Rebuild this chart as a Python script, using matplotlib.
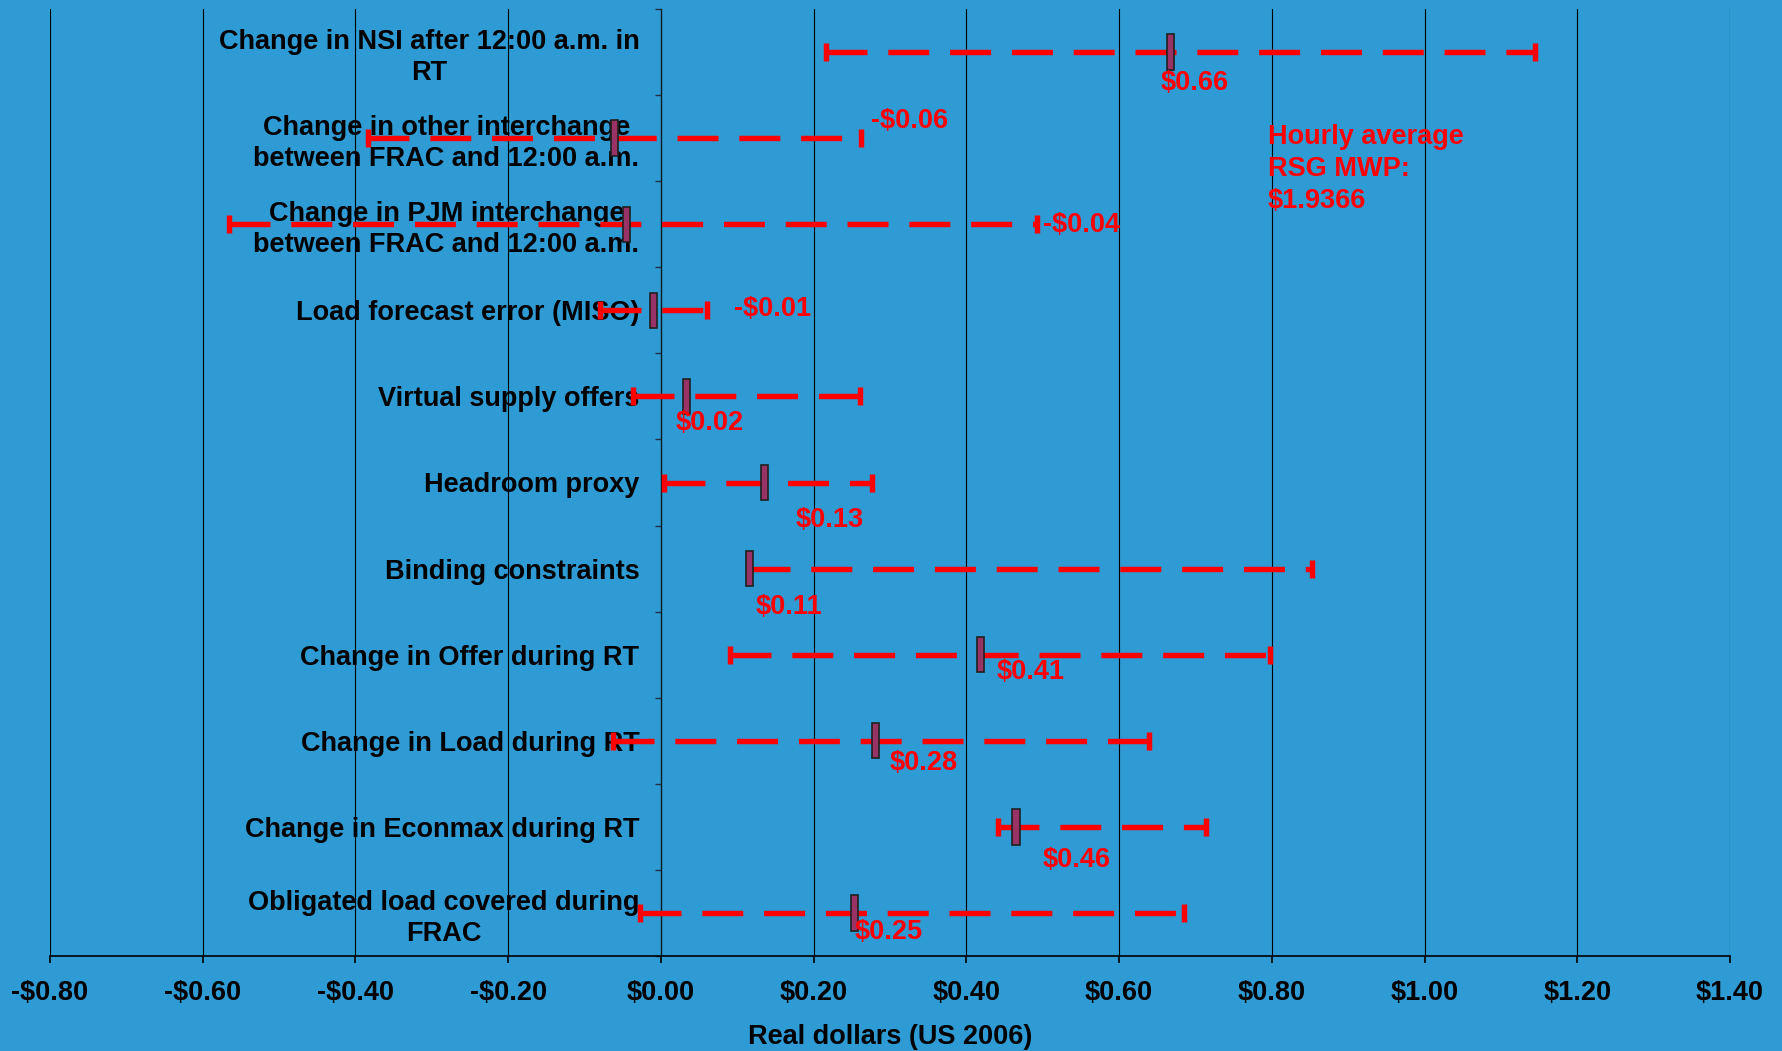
import numpy as np
import matplotlib
matplotlib.use("Agg")
import matplotlib.pyplot as plt
from matplotlib.ticker import FixedLocator, FuncFormatter

categories = [
    "Change in NSI after 12:00 a.m. in\nRT",
    "Change in other interchange\nbetween FRAC and 12:00 a.m.",
    "Change in PJM interchange\nbetween FRAC and 12:00 a.m.",
    "Load forecast error (MISO)",
    "Virtual supply offers",
    "Headroom proxy",
    "Binding constraints",
    "Change in Offer during RT",
    "Change in Load during RT",
    "Change in Econmax during RT",
    "Obligated load covered during\nFRAC",
]
point = [0.667, -0.061, -0.045, -0.010, 0.033, 0.136, 0.116, 0.418, 0.281, 0.465, 0.253]
low = [0.216, -0.383, -0.566, -0.080, -0.036, 0.004, 0.116, 0.091, -0.063, 0.441, -0.028]
high = [1.145, 0.262, 0.493, 0.061, 0.261, 0.277, 0.852, 0.797, 0.639, 0.714, 0.685]
value_labels = ["$0.66", "-$0.06", "-$0.04", "-$0.01", "$0.02", "$0.13", "$0.11",
                "$0.41", "$0.28", "$0.46", "$0.25"]
# label offsets from the point estimate, in pixels
label_offsets = [(-10, -31), (257, 17), (416, -1), (81, 1), (-11, -27), (31, -38),
                 (6, -38), (16, -17), (14, -22), (27, -33), (0, -19)]
x_ticks = [-0.8, -0.6, -0.4, -0.2, 0.0, 0.2, 0.4, 0.6, 0.8, 1.0, 1.2, 1.4]
note_text = "Hourly average\nRSG MWP:\n$1.9366"

BG = "#2E9BD4"
RED = "#FF0000"
MARK = "#993366"
FS = 19.5

plt.rcParams["font.family"] = ["Liberation Sans", "DejaVu Sans"]
plt.rcParams["font.weight"] = "bold"
plt.rcParams["lines.scale_dashes"] = False

fig = plt.figure(figsize=(17.83, 10.51), dpi=100, facecolor=BG)
ax = fig.add_axes([50 / 1783, 1 - 956 / 1051, 1680 / 1783, 947 / 1051])
ax.set_facecolor(BG)
ax.set_axisbelow(True)

# spine placement first (it resets the ticks)
ax.spines["left"].set_position(("data", 0))
ax.spines["left"].set_linewidth(0.9)
ax.spines["left"].set_color("#101820")
ax.spines["top"].set_visible(False)
ax.spines["right"].set_visible(False)
ax.spines["bottom"].set_linewidth(1.2)

n = len(categories)
y = np.arange(n)
pt = np.array(point)
lo = np.array(low)
hi = np.array(high)

eb = ax.errorbar(pt, y, xerr=[pt - lo, hi - pt], fmt="none", ecolor=RED,
                 elinewidth=3.9, capsize=6.5, capthick=3.9, zorder=3)
for lc in eb[2]:
    lc.set_linestyle((0, (29.5, 15)))
    lc.set_capstyle("butt")

ax.barh(y, width=0.0092, left=pt - 0.0046, height=0.41, color=MARK,
        edgecolor="#202020", linewidth=1.2, zorder=4)

for i in range(n):
    ax.annotate(value_labels[i], xy=(pt[i], y[i]), xytext=label_offsets[i],
                textcoords="offset pixels", ha="left", va="center",
                color=RED, fontsize=FS, fontweight="bold", zorder=5)

ax.text(0.795, 0.84, note_text, color=RED, fontsize=FS, fontweight="bold",
        ha="left", va="top", linespacing=1.28, zorder=5)

ax.set_xlim(-0.8, 1.4)
ax.set_ylim(n - 0.5, -0.5)
ax.xaxis.set_major_locator(FixedLocator(x_ticks))
ax.xaxis.set_major_formatter(FuncFormatter(
    lambda v, p: ("-$%.2f" % abs(v)) if v < -1e-9 else ("$%.2f" % abs(v))))
ax.grid(axis="x", color="black", linewidth=0.8)
ax.tick_params(axis="x", direction="out", length=5, width=1.2, pad=12,
               labelsize=FS, colors="black")

ax.set_yticks(y)
ax.set_yticks(np.arange(n + 1) - 0.5, minor=True)
ax.tick_params(axis="y", which="major", length=0, pad=15.5, labelsize=FS)
ax.tick_params(axis="y", which="minor", length=4.5, width=1.0, direction="out",
               color="#203040")
ax.set_yticklabels(categories, multialignment="center", linespacing=1.24,
                   fontweight="bold", fontsize=FS)
for lab in ax.get_xticklabels():
    lab.set_fontweight("bold")

ax.set_xlabel("Real dollars (US 2006)", fontsize=FS, fontweight="bold", labelpad=13)

fig.savefig("out.png", dpi=100, facecolor=BG)
